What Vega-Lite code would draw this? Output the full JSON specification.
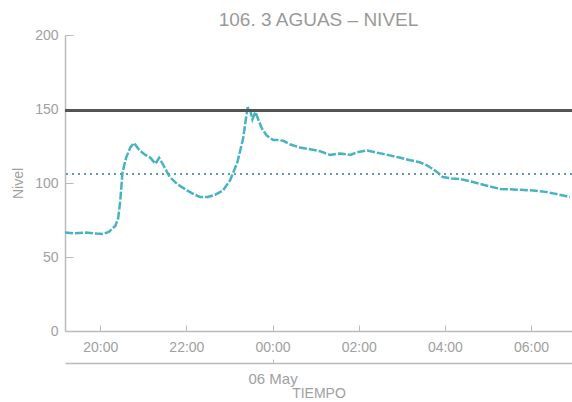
{
  "$schema": "https://vega.github.io/schema/vega-lite/v6.json",
  "width": 507,
  "height": 296,
  "autosize": "none",
  "padding": {"left": 65, "top": 35, "right": 0, "bottom": 71},
  "background": "white",
  "title": {"text": "106. 3 AGUAS – NIVEL", "fontSize": 19, "font": "Liberation Sans", "fontWeight": "normal", "color": "#999999", "anchor": "middle", "offset": -2},
  "config": {
    "view": {"stroke": null},
    "axis": {"domainColor": "#bbbbbb", "tickColor": "#bbbbbb", "labelColor": "#a0a0a0", "titleColor": "#a0a0a0", "labelFont": "Liberation Sans", "titleFont": "Liberation Sans", "labelFontSize": 14, "titleFontSize": 14, "titleFontWeight": "normal", "grid": false, "domainWidth": 1.5}
  },
  "data": {"values": [
    {"t": "2019-05-05T19:11:00Z", "nivel": 66.5},
    {"t": "2019-05-05T19:25:00Z", "nivel": 66},
    {"t": "2019-05-05T19:40:00Z", "nivel": 66.5},
    {"t": "2019-05-05T19:55:00Z", "nivel": 65.8},
    {"t": "2019-05-05T20:04:00Z", "nivel": 65.5},
    {"t": "2019-05-05T20:12:00Z", "nivel": 67},
    {"t": "2019-05-05T20:21:00Z", "nivel": 71},
    {"t": "2019-05-05T20:25:00Z", "nivel": 76},
    {"t": "2019-05-05T20:28:00Z", "nivel": 88},
    {"t": "2019-05-05T20:31:00Z", "nivel": 107},
    {"t": "2019-05-05T20:36:00Z", "nivel": 117},
    {"t": "2019-05-05T20:42:00Z", "nivel": 124},
    {"t": "2019-05-05T20:47:00Z", "nivel": 127},
    {"t": "2019-05-05T20:55:00Z", "nivel": 122},
    {"t": "2019-05-05T21:03:00Z", "nivel": 119},
    {"t": "2019-05-05T21:10:00Z", "nivel": 117},
    {"t": "2019-05-05T21:17:00Z", "nivel": 113},
    {"t": "2019-05-05T21:22:00Z", "nivel": 117},
    {"t": "2019-05-05T21:28:00Z", "nivel": 112},
    {"t": "2019-05-05T21:37:00Z", "nivel": 104},
    {"t": "2019-05-05T21:48:00Z", "nivel": 99},
    {"t": "2019-05-05T22:01:00Z", "nivel": 95},
    {"t": "2019-05-05T22:10:00Z", "nivel": 92.5},
    {"t": "2019-05-05T22:19:00Z", "nivel": 90.5},
    {"t": "2019-05-05T22:30:00Z", "nivel": 90.5},
    {"t": "2019-05-05T22:40:00Z", "nivel": 92},
    {"t": "2019-05-05T22:51:00Z", "nivel": 95},
    {"t": "2019-05-05T23:01:00Z", "nivel": 102},
    {"t": "2019-05-05T23:11:00Z", "nivel": 114},
    {"t": "2019-05-05T23:19:00Z", "nivel": 130},
    {"t": "2019-05-05T23:25:00Z", "nivel": 150.5},
    {"t": "2019-05-05T23:28:00Z", "nivel": 151},
    {"t": "2019-05-05T23:32:00Z", "nivel": 143},
    {"t": "2019-05-05T23:36:00Z", "nivel": 148},
    {"t": "2019-05-05T23:45:00Z", "nivel": 137},
    {"t": "2019-05-05T23:52:00Z", "nivel": 132},
    {"t": "2019-05-06T00:01:00Z", "nivel": 129},
    {"t": "2019-05-06T00:08:00Z", "nivel": 129},
    {"t": "2019-05-06T00:15:00Z", "nivel": 128.5},
    {"t": "2019-05-06T00:25:00Z", "nivel": 126},
    {"t": "2019-05-06T00:38:00Z", "nivel": 124},
    {"t": "2019-05-06T00:50:00Z", "nivel": 123},
    {"t": "2019-05-06T01:06:00Z", "nivel": 121.5},
    {"t": "2019-05-06T01:20:00Z", "nivel": 119},
    {"t": "2019-05-06T01:34:00Z", "nivel": 120},
    {"t": "2019-05-06T01:48:00Z", "nivel": 119},
    {"t": "2019-05-06T02:00:00Z", "nivel": 121},
    {"t": "2019-05-06T02:12:00Z", "nivel": 122},
    {"t": "2019-05-06T02:30:00Z", "nivel": 120},
    {"t": "2019-05-06T02:45:00Z", "nivel": 118.5},
    {"t": "2019-05-06T02:58:00Z", "nivel": 117},
    {"t": "2019-05-06T03:10:00Z", "nivel": 115.5},
    {"t": "2019-05-06T03:25:00Z", "nivel": 114},
    {"t": "2019-05-06T03:35:00Z", "nivel": 112},
    {"t": "2019-05-06T03:49:00Z", "nivel": 107.5},
    {"t": "2019-05-06T03:57:00Z", "nivel": 104},
    {"t": "2019-05-06T04:10:00Z", "nivel": 103},
    {"t": "2019-05-06T04:21:00Z", "nivel": 102.7},
    {"t": "2019-05-06T04:39:00Z", "nivel": 100.7},
    {"t": "2019-05-06T05:00:00Z", "nivel": 98},
    {"t": "2019-05-06T05:17:00Z", "nivel": 96},
    {"t": "2019-05-06T05:40:00Z", "nivel": 95.5},
    {"t": "2019-05-06T06:03:00Z", "nivel": 95},
    {"t": "2019-05-06T06:20:00Z", "nivel": 94},
    {"t": "2019-05-06T06:31:00Z", "nivel": 93},
    {"t": "2019-05-06T06:45:00Z", "nivel": 91.5},
    {"t": "2019-05-06T06:54:00Z", "nivel": 90.5}
  ]},
  "layer": [
    {
      "mark": {"type": "line", "color": "#45b3c1", "strokeWidth": 2.5, "strokeDash": [8, 2], "clip": true},
      "encoding": {
        "x": {"field": "t", "type": "temporal",
          "scale": {"type": "utc", "nice": false, "domain": [{"year": 2019, "month": 5, "date": 5, "hours": 19, "minutes": 11, "utc": true}, {"year": 2019, "month": 5, "date": 6, "hours": 6, "minutes": 57, "utc": true}]},
          "axis": {"orient": "bottom", "format": "%H:%M", "title": null, "tickSize": -6, "labelPadding": 15,
            "values": [
              {"year": 2019, "month": 5, "date": 5, "hours": 20, "utc": true},
              {"year": 2019, "month": 5, "date": 5, "hours": 22, "utc": true},
              {"year": 2019, "month": 5, "date": 6, "hours": 0, "utc": true},
              {"year": 2019, "month": 5, "date": 6, "hours": 2, "utc": true},
              {"year": 2019, "month": 5, "date": 6, "hours": 4, "utc": true},
              {"year": 2019, "month": 5, "date": 6, "hours": 6, "utc": true}
            ]}},
        "y": {"field": "nivel", "type": "quantitative",
          "scale": {"domain": [0, 200], "nice": false},
          "axis": {"title": "Nivel", "titleFontSize": 14, "values": [0, 50, 100, 150, 200], "tickSize": -8, "labelPadding": 15, "titlePadding": 9}}
      }
    },
    {
      "mark": {"type": "rule", "color": "#555555", "strokeWidth": 2.5},
      "encoding": {"y": {"datum": 149, "type": "quantitative"}}
    },
    {
      "mark": {"type": "rule", "color": "#5a9cbd", "strokeWidth": 2, "strokeDash": [2, 4]},
      "encoding": {"y": {"datum": 106, "type": "quantitative"}}
    },
    {
      "mark": {"type": "rule", "strokeOpacity": 0},
      "encoding": {
        "x": {"datum": {"year": 2019, "month": 5, "date": 6, "hours": 0, "utc": true}, "type": "temporal",
          "axis": {"orient": "bottom", "format": "%d %b", "title": "TIEMPO", "titleFontSize": 14, "labelFontSize": 15, "offset": 32, "tickSize": -4, "labelPadding": 12, "titlePadding": 0,
            "values": [{"year": 2019, "month": 5, "date": 6, "hours": 0, "utc": true}]}}
      }
    }
  ],
  "resolve": {"axis": {"x": "independent"}}
}
